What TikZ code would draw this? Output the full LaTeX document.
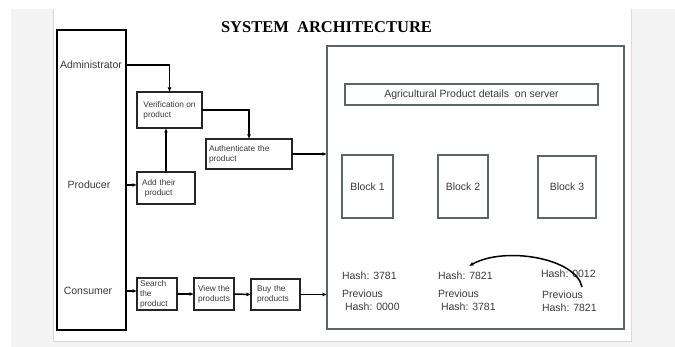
\documentclass[tikz,border=0pt]{standalone}
\usepackage{fontspec}
\setmainfont{Liberation Sans}
\newfontfamily\titlefont{Liberation Serif}
\usetikzlibrary{arrows.meta,calc}
\definecolor{txt}{HTML}{3A3A3A}
\definecolor{slate}{HTML}{5B6469}
\definecolor{bgc}{HTML}{F4F4F4}
\definecolor{edgec}{HTML}{DADADA}
\begin{document}
\begin{tikzpicture}[x=1pt,y=-1pt,
  every node/.style={inner sep=0pt, outer sep=0pt, text=txt},
  big/.style={font=\fontsize{10.5}{12.6}\selectfont},
  small/.style={draw=black!85, line width=1.1pt, font=\fontsize{8.3}{10}\selectfont, align=left},
  block/.style={draw=slate, line width=1.2pt, big},
  arr/.style={line width=1.5pt, -{Latex[length=4.5pt,width=4pt]}},
]
\useasboundingbox (0,0) rectangle (675,347);
\fill[bgc] (11,9) rectangle (675,347);
\fill[white] (53,9) rectangle (631,341);
\draw[edgec, line width=0.6pt] (53,9) -- (53,341) -- (631,341) -- (631,9);

\node[font=\titlefont\bfseries\fontsize{16.5}{18}\selectfont, text=black] (title) at (326.5,27) {SYSTEM\ \ ARCHITECTURE};

% actors
\node[draw=black, line width=1.2pt, minimum width=69pt, minimum height=300pt] (actors) at (91.5,180) {};
\node[big] (admin) at (91,65) {Administrator};
\node[big] (prod) at (89,185) {Producer};
\node[big] (cons) at (88,291) {Consumer};

% process boxes
\node[small, minimum width=65pt, minimum height=36pt] (verif) at (169.5,110) {Verification on\\product};
\node[small, minimum width=86pt, minimum height=30pt, text width=80pt, inner xsep=3pt] (auth) at (249,154) {Authenticate the\\product};
\node[small, minimum width=58pt, minimum height=32pt, text width=48pt, inner xsep=5pt] (add) at (166,188) {Add their\\\ product};
\node[small, minimum width=40pt, minimum height=32pt, text width=34pt, inner xsep=3pt] (search) at (157,294) {Search\\the\\product};
\node[small, minimum width=40pt, minimum height=32pt] (view) at (214,294) {View the\\products};
\node[small, minimum width=49pt, minimum height=31pt, text width=37pt, inner xsep=6pt] (buy) at (275.5,294.5) {Buy the\\products};

% server
\node[draw=slate, line width=1.6pt, minimum width=297pt, minimum height=283pt] (server) at (475.5,187.5) {};
\node[block, minimum width=253pt, minimum height=21pt] (agri) at (471.5,94.5) {Agricultural Product details\ \ on server};
\node[block, minimum width=51pt, minimum height=63pt] (b1) at (367.5,186.5) {Block 1};
\node[block, minimum width=50pt, minimum height=63pt] (b2) at (463,186.5) {Block 2};
\node[block, minimum width=58pt, minimum height=62pt] (b3) at (567,187) {Block 3};

\node[big, anchor=west] (h1) at (342,276) {Hash: 3781};
\node[big, anchor=west] (p1) at (342,294) {Previous};
\node[big, anchor=west] (q1) at (345,307) {Hash: 0000};
\node[big, anchor=west] (h2) at (438,276) {Hash: 7821};
\node[big, anchor=west] (p2) at (438,294) {Previous};
\node[big, anchor=west] (q2) at (441,307) {Hash: 3781};
\node[big, anchor=west] (h3) at (541,274) {Hash: 0012};
\node[big, anchor=west] (p3) at (542,295) {Previous};
\node[big, anchor=west] (q3) at (542,308) {Hash: 7821};

\coordinate (cs) at (582,287);
\coordinate (ce) at (469,266);

% connectors
\draw[arr] (admin.east -| actors.east) -| (verif.north);
\draw[arr] (prod -| actors.east) -- (prod -| add.west);
\draw[arr] (add.north) -- (add.north |- verif.south);
\draw[arr] (verif.east) -| (auth.north);
\draw[arr] (auth.east) -- (auth.east -| server.west);
\draw[arr] (cons -| actors.east) -- (cons -| search.west);
\draw[arr] (search.east) -- (view.west);
\draw[arr] (view.east) -- (buy.west);
\draw[arr] (buy.east) -- (buy.east -| server.west);
\draw[arr] (cs) .. controls (576,258) and (505,246) .. (ce);
\end{tikzpicture}
\end{document}
